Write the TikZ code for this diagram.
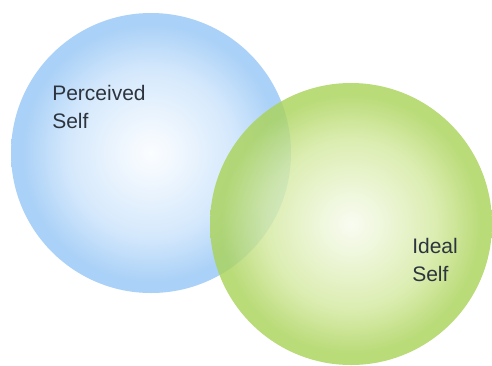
\documentclass[tikz,border=0pt]{standalone}
\usepackage{fontspec}
\setmainfont{Liberation Sans}
\usetikzlibrary{positioning}

\definecolor{blueedge}{RGB}{170,209,247}
\definecolor{bluemid}{RGB}{212,232,252}
\definecolor{bluecore}{RGB}{251,253,255}
\definecolor{greenedge}{RGB}{170,211,90}
\definecolor{greenmid}{RGB}{212,233,160}
\definecolor{greencore}{RGB}{247,251,238}
\definecolor{labeltext}{RGB}{45,52,62}

\pgfdeclareradialshading{bluesphere}{\pgfpoint{0bp}{0bp}}{%
  color(0bp)=(bluecore); color(5bp)=(bluecore!70!bluemid); color(15bp)=(bluemid);
  color(23bp)=(blueedge); color(25bp)=(blueedge); color(50bp)=(blueedge)}
\pgfdeclareradialshading{greensphere}{\pgfpoint{0bp}{0bp}}{%
  color(0bp)=(greencore); color(5bp)=(greencore!70!greenmid); color(15bp)=(greenmid);
  color(23bp)=(greenedge); color(25bp)=(greenedge); color(50bp)=(greenedge)}

\tikzset{
  sphere/.style={circle, inner sep=0pt, minimum size=#1},
  setlabel/.style={anchor=north west, inner sep=0pt, align=left, text=labeltext,
    font=\fontsize{15.75}{21}\selectfont}
}

\begin{document}
\begin{tikzpicture}[x=0.75pt, y=-0.75pt]
  \useasboundingbox (0,0) rectangle (492,365);

  % the two circles
  \node[sphere=210pt, shading=bluesphere] (perceived) at (151,153) {};
  \node[sphere=211.5pt, shading=greensphere, opacity=0.82] (ideal) at (351,224) {};

  % labels
  \node[setlabel] (perceivedtext) at (52,85) {Perceived\\Self};
  \node[setlabel] (idealtext) at (412,238) {Ideal\\Self};
\end{tikzpicture}
\end{document}
